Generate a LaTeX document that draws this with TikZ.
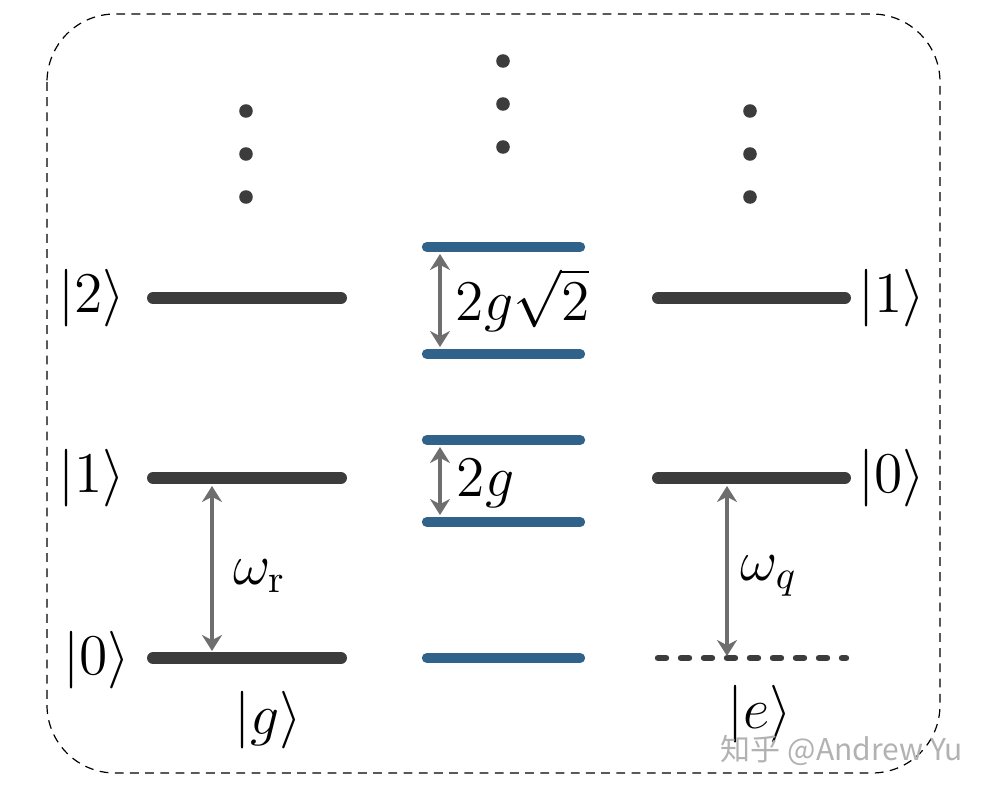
\documentclass[tikz,border=0pt]{standalone}
\usepackage{fontspec}
\usepackage{amsmath}
\usetikzlibrary{arrows.meta}
\newfontfamily\cjk{Noto Sans CJK SC}
\definecolor{lvldark}{HTML}{3C3C3C}
\definecolor{lvlblue}{HTML}{30628A}
\definecolor{arrgray}{HTML}{6E6E6E}
\begin{document}
\begin{tikzpicture}[x=0.25pt,y=-0.25pt,
  lvl/.style={draw=lvldark,line width=3pt,line cap=round},
  blvl/.style={draw=lvlblue,line width=2.6pt,line cap=round},
  dlvl/.style={draw=lvldark,line width=1.6pt,line cap=round,dash pattern=on 2pt off 3.75pt},
  gap/.style={draw=arrgray,line width=0.8pt,{Stealth[length=4pt,width=5pt]}-{Stealth[length=4pt,width=5pt]}},
  lab/.style={inner sep=0pt,font=\fontsize{14}{16}\selectfont},
  dotn/.style={circle,fill=lvldark,inner sep=0pt,minimum size=3.4pt}]
\useasboundingbox (0,0) rectangle (988,792);
\draw[black,line width=0.3pt,dash pattern=on 2.2pt off 1.6pt,rounded corners=17pt] (47,14) rectangle (940,773);
% left column
\coordinate (l2a) at (153,298); \coordinate (l2b) at (341,298);
\coordinate (l1a) at (153,478); \coordinate (l1b) at (341,478);
\coordinate (l0a) at (153,658); \coordinate (l0b) at (341,658);
\draw[lvl] (l2a) -- (l2b);
\draw[lvl] (l1a) -- (l1b);
\draw[lvl] (l0a) -- (l0b);
\node[dotn] (ld1) at (246,111) {};
\node[dotn] (ld2) at (246,154) {};
\node[dotn] (ld3) at (246,197) {};
\node[lab] (k2) at (92,298) {$|2\rangle$};
\node[lab] (k1) at (92,478) {$|1\rangle$};
\node[lab] (k0) at (97,660) {$|0\rangle$};
\node[lab] (kg) at (268,720) {$|g\rangle$};
\coordinate (wra) at (212,486); \coordinate (wrb) at (212,651);
\draw[gap] (wra) -- (wrb);
\node[lab] (wr) at (260,576) {$\omega_{\mathrm{r}}$};
% middle column
\coordinate (m5a) at (427,247); \coordinate (m5b) at (580,247);
\coordinate (m4a) at (427,354); \coordinate (m4b) at (580,354);
\coordinate (m3a) at (427,440); \coordinate (m3b) at (580,440);
\coordinate (m2a) at (427,522); \coordinate (m2b) at (580,522);
\coordinate (m1a) at (427,658); \coordinate (m1b) at (580,658);
\draw[blvl] (m5a) -- (m5b);
\draw[blvl] (m4a) -- (m4b);
\draw[blvl] (m3a) -- (m3b);
\draw[blvl] (m2a) -- (m2b);
\draw[blvl] (m1a) -- (m1b);
\node[dotn] (md1) at (503,61) {};
\node[dotn] (md2) at (503,104) {};
\node[dotn] (md3) at (503,147) {};
\coordinate (g2a) at (440,254); \coordinate (g2b) at (440,347);
\draw[gap] (g2a) -- (g2b);
\node[lab,anchor=west] (gs2) at (455,300) {$2g\sqrt{2}$};
\coordinate (g1a) at (440,447); \coordinate (g1b) at (440,515);
\draw[gap] (g1a) -- (g1b);
\node[lab,anchor=west] (gs1) at (456,484) {$2g$};
% right column
\coordinate (r1a) at (658,298); \coordinate (r1b) at (845,298);
\coordinate (r0a) at (658,478); \coordinate (r0b) at (845,478);
\coordinate (rea) at (658,658); \coordinate (reb) at (846,658);
\draw[lvl] (r1a) -- (r1b);
\draw[lvl] (r0a) -- (r0b);
\draw[dlvl] (rea) -- (reb);
\node[dotn] (rd1) at (750,111) {};
\node[dotn] (rd2) at (750,154) {};
\node[dotn] (rd3) at (750,197) {};
\node[lab] (q1) at (892,298) {$|1\rangle$};
\node[lab] (q0) at (892,478) {$|0\rangle$};
\node[lab] (ke) at (760,714) {$|e\rangle$};
\coordinate (wqa) at (727,486); \coordinate (wqb) at (727,656);
\draw[gap] (wqa) -- (wqb);
\node[lab] (wq) at (769,576) {$\omega_{q}$};
% watermark
\node[inner sep=0pt,text=black!30,font=\cjk\fontsize{7.5}{9}\selectfont] (wm) at (842,750) {知乎 @Andrew Yu};
\end{tikzpicture}
\end{document}
